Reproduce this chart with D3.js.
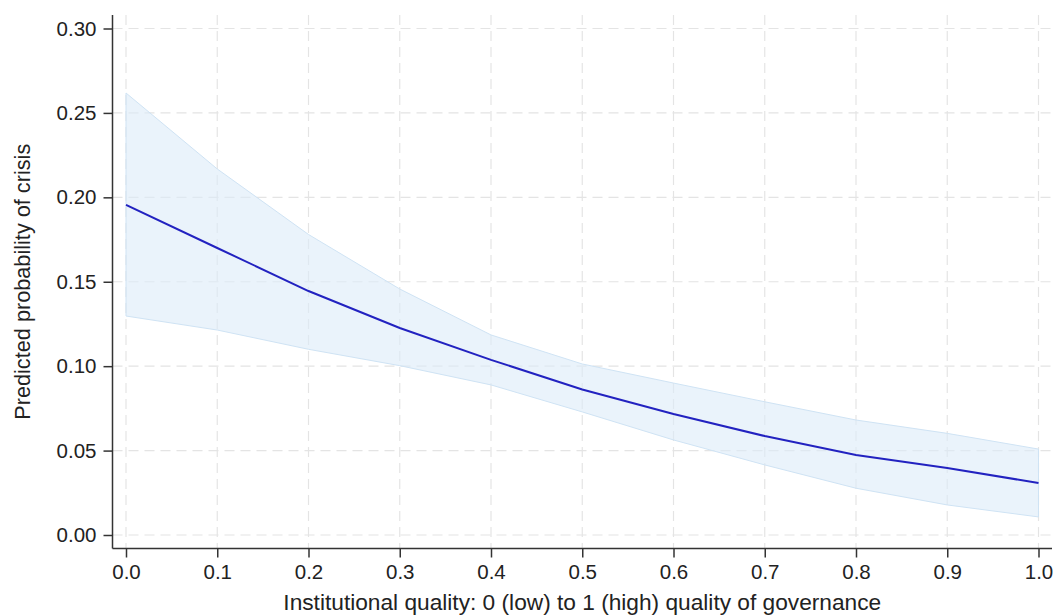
<!DOCTYPE html>
<html><head><meta charset="utf-8">
<script src="https://cdn.jsdelivr.net/npm/d3@7/dist/d3.min.js"></script>
<style>body{margin:0;background:#fff}svg{display:block}text{font-family:"Liberation Sans",Arial,Helvetica,sans-serif;fill:#222}</style>
</head><body>
<svg id="c" width="1056" height="615"></svg>
<script>
const xValues = [0, 0.1, 0.2, 0.3, 0.4, 0.5, 0.6, 0.7, 0.8, 0.9, 1.0];
const meanValues = [0.1955, 0.170, 0.1445, 0.1226, 0.1037, 0.0862, 0.0717, 0.0586, 0.0474, 0.0397, 0.0308];
const upperValues = [0.2618, 0.2168, 0.178, 0.1457, 0.1185, 0.1013, 0.090, 0.0789, 0.0681, 0.0602, 0.0509];
const lowerValues = [0.1297, 0.1214, 0.110, 0.1003, 0.0889, 0.0729, 0.0563, 0.0415, 0.0277, 0.0178, 0.0107];
const xTicks = [0, 0.1, 0.2, 0.3, 0.4, 0.5, 0.6, 0.7, 0.8, 0.9, 1.0];
const yTicks = [0, 0.05, 0.10, 0.15, 0.20, 0.25, 0.30];
const xTitle = "Institutional quality: 0 (low) to 1 (high) quality of governance";
const yTitle = "Predicted probability of crisis";

const svg = d3.select("#c");
const x = d3.scaleLinear().domain([0, 1]).range([126, 1038.5]);
const y = d3.scaleLinear().domain([0, 0.30]).range([535, 28.5]);
const axisX = 112.5, axisY = 548.5, plotTop = 15, plotRight = 1052;
const data = xValues.map((v, i) => ({x: v, m: meanValues[i], lo: lowerValues[i], hi: upperValues[i]}));

// grid
const grid = svg.append("g").attr("stroke", "#e4e4e4").attr("stroke-width", 1.2).attr("stroke-dasharray", "10,6");
grid.selectAll(".gx").data(xTicks).join("line")
  .attr("x1", d => x(d)).attr("x2", d => x(d)).attr("y1", plotTop).attr("y2", axisY);
grid.selectAll(".gy").data(yTicks).join("line")
  .attr("x1", axisX).attr("x2", plotRight).attr("y1", d => y(d)).attr("y2", d => y(d));

// band
svg.append("path").datum(data)
  .attr("d", d3.area().x(d => x(d.x)).y0(d => y(d.lo)).y1(d => y(d.hi)))
  .attr("fill", "#dcebf8").attr("fill-opacity", 0.6)
  .attr("stroke", "#cfe3f4").attr("stroke-width", 1);

// line
svg.append("path").datum(data)
  .attr("d", d3.line().x(d => x(d.x)).y(d => y(d.m)))
  .attr("fill", "none").attr("stroke", "#2222c0").attr("stroke-width", 2);

// axes
const ax = svg.append("g").attr("transform", `translate(0,${axisY})`)
  .call(d3.axisBottom(x).tickValues(xTicks).tickFormat(d3.format(".1f")).tickSize(9).tickPadding(7));
ax.select(".domain").attr("d", `M${axisX},0H${plotRight}`);
const ay = svg.append("g").attr("transform", `translate(${axisX},0)`)
  .call(d3.axisLeft(y).tickValues(yTicks).tickFormat(d3.format(".2f")).tickSize(9).tickPadding(7));
ay.select(".domain").attr("d", `M0,${plotTop}V${axisY}`);
svg.selectAll(".domain, .tick line").attr("stroke", "#333").attr("stroke-width", 1.5);
svg.selectAll(".tick text").attr("font-size", 20.5).attr("fill", "#222")
  .attr("font-family", "'Liberation Sans', Arial, sans-serif");

svg.append("text").attr("x", x(0.5)).attr("y", 610).attr("text-anchor", "middle")
  .attr("font-size", 22.7).text(xTitle);
svg.append("text").attr("transform", `translate(29.5,${(y(0.30) + y(0)) / 2}) rotate(-90)`)
  .attr("text-anchor", "middle").attr("font-size", 21.7).text(yTitle);
</script>
</body></html>
